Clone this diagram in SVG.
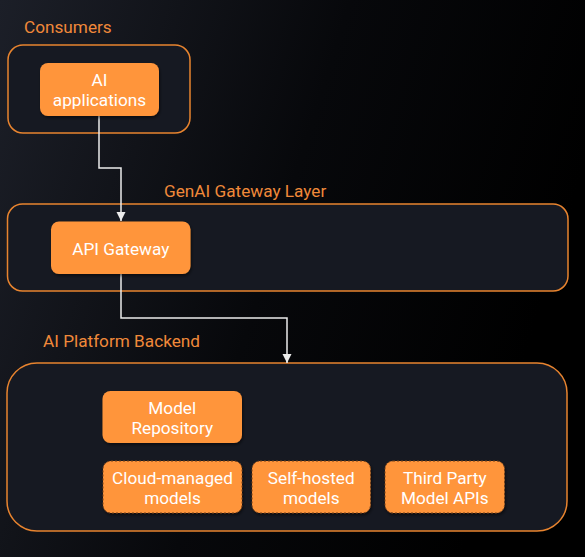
<svg xmlns="http://www.w3.org/2000/svg" width="585" height="557" viewBox="0 0 585 557">
<defs>
<linearGradient id="bg" x1="0" y1="0" x2="1" y2="0.3">
<stop offset="0" stop-color="#1c1f28"/>
<stop offset="0.55" stop-color="#07080b"/>
<stop offset="1" stop-color="#000000"/>
</linearGradient>
<filter id="sh" x="-10%" y="-10%" width="130%" height="140%">
<feDropShadow dx="1" dy="2" stdDeviation="1.5" flood-color="#000" flood-opacity="0.5"/>
</filter>
<marker id="arr" viewBox="0 0 10 10" refX="10" refY="5" markerWidth="9" markerHeight="10" markerUnits="userSpaceOnUse" orient="auto">
<path d="M0,0 L10,5 L0,10 z" fill="#ececec"/>
</marker>
<style>
.grp{fill:#161922;stroke:#e8842f;stroke-width:1.5}
.glabel{font-family:Roboto,"Liberation Sans",sans-serif;font-size:17.2px;fill:#f0893a}
.node{fill:#ff953b;filter:url(#sh)}
.dash{stroke:#74401a;stroke-width:1;stroke-dasharray:2,2}
.ntext{font-family:Roboto,"Liberation Sans",sans-serif;font-size:17.2px;fill:#ffffff;text-anchor:middle}
.edge{fill:none;stroke:#ececec;stroke-width:1.5}
</style>
</defs>
<rect width="585" height="557" fill="url(#bg)"/>

<g id="consumers">
<rect class="grp" x="8" y="45" width="182" height="88" rx="15"/>
<text class="glabel" x="24" y="33">Consumers</text>
</g>
<g id="gateway-layer">
<rect class="grp" x="7.5" y="204" width="560.5" height="87" rx="15"/>
<text class="glabel" x="164" y="197">GenAI Gateway Layer</text>
</g>
<g id="backend">
<rect class="grp" x="7" y="363" width="560" height="168" rx="30"/>
<text class="glabel" x="43" y="347">AI Platform Backend</text>
</g>

<g id="connectors">
<path class="edge" d="M99,116 V168 H121 V221" marker-end="url(#arr)"/>
<path class="edge" d="M121,274 V318 H287 V363" marker-end="url(#arr)"/>
</g>

<g id="ai-applications">
<rect class="node" x="40" y="63" width="119" height="53" rx="8"/>
<text class="ntext" x="99.5" y="86">AI</text>
<text class="ntext" x="99.5" y="106">applications</text>
</g>
<g id="api-gateway">
<rect class="node" x="51" y="221.5" width="139.5" height="52.5" rx="8"/>
<text class="ntext" x="120.75" y="254.5">API Gateway</text>
</g>
<g id="model-repository">
<rect class="node" x="102.5" y="391" width="139.5" height="52" rx="8"/>
<text class="ntext" x="172.25" y="414">Model</text>
<text class="ntext" x="172.25" y="434">Repository</text>
</g>
<g id="cloud-managed">
<rect class="node dash" x="103" y="461" width="139" height="52" rx="8"/>
<text class="ntext" x="172.5" y="484">Cloud-managed</text>
<text class="ntext" x="172.5" y="504">models</text>
</g>
<g id="self-hosted">
<rect class="node dash" x="252" y="461" width="118.5" height="52" rx="8"/>
<text class="ntext" x="311.25" y="484">Self-hosted</text>
<text class="ntext" x="311.25" y="504">models</text>
</g>
<g id="third-party">
<rect class="node dash" x="385" y="461" width="119.5" height="52" rx="8"/>
<text class="ntext" x="444.75" y="484">Third Party</text>
<text class="ntext" x="444.75" y="504">Model APIs</text>
</g>
</svg>
